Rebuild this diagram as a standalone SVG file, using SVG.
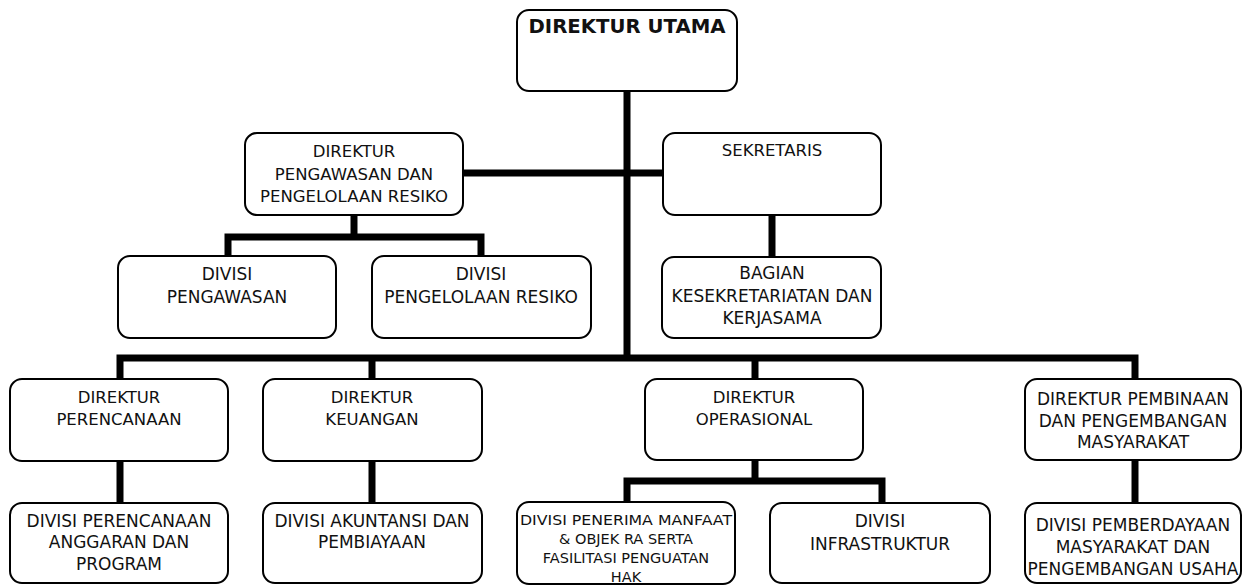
<svg xmlns="http://www.w3.org/2000/svg" width="1244" height="585" viewBox="0 0 1244 585">
<style>
.box{fill:#fff;stroke:#000;stroke-width:2}
.t{font-family:"DejaVu Sans",sans-serif;font-size:16.5px;fill:#111;text-anchor:middle}
.d{font-size:17px}
.s{font-size:14.5px}
.b{font-weight:bold;font-size:19px}
.c{fill:none;stroke:#000;stroke-width:7;stroke-linecap:butt;stroke-linejoin:miter}
</style>
<rect width="1244" height="585" fill="#fff"/>
<g id="connectors">
<path class="c" d="M627 91 V358"/>
<path class="c" d="M120 379 V358 H1135 V379"/>
<path class="c" d="M372 358 V379"/>
<path class="c" d="M755 358 V379"/>
<path class="c" d="M463 173 H663"/>
<path class="c" d="M354 215 V237"/>
<path class="c" d="M228 256 V237 H481 V256"/>
<path class="c" d="M772 215 V257"/>
<path class="c" d="M120 461 V503"/>
<path class="c" d="M372 461 V503"/>
<path class="c" d="M755 460 V481"/>
<path class="c" d="M627 502 V481 H882 V503"/>
<path class="c" d="M1135 460 V503"/>
</g>
<g id="n-utama">
<rect class="box" x="517" y="10" width="220" height="81" rx="12"/>
<text class="t b" x="627" y="33" textLength="197" lengthAdjust="spacingAndGlyphs">DIREKTUR UTAMA</text>
</g>
<g id="n-dir-pengawasan">
<rect class="box" x="245" y="133" width="218" height="82" rx="12"/>
<text class="t" x="354" y="157">DIREKTUR</text>
<text class="t" x="354" y="180">PENGAWASAN DAN</text>
<text class="t" x="354" y="202">PENGELOLAAN RESIKO</text>
</g>
<g id="n-sekretaris">
<rect class="box" x="663" y="133" width="218" height="82" rx="12"/>
<text class="t" x="772" y="156">SEKRETARIS</text>
</g>
<g id="n-div-pengawasan">
<rect class="box" x="118" y="256" width="218" height="82" rx="12"/>
<text class="t d" x="227" y="280">DIVISI</text>
<text class="t d" x="227" y="303">PENGAWASAN</text>
</g>
<g id="n-div-resiko">
<rect class="box" x="372" y="256" width="219" height="82" rx="12"/>
<text class="t d" x="481" y="280">DIVISI</text>
<text class="t d" x="481" y="303">PENGELOLAAN RESIKO</text>
</g>
<g id="n-bagian">
<rect class="box" x="662" y="257" width="219" height="81" rx="12"/>
<text class="t d" x="772" y="279">BAGIAN</text>
<text class="t d" x="772" y="302">KESEKRETARIATAN DAN</text>
<text class="t d" x="772" y="324">KERJASAMA</text>
</g>
<g id="n-dir-perencanaan">
<rect class="box" x="10" y="379" width="218" height="82" rx="12"/>
<text class="t" x="119" y="403">DIREKTUR</text>
<text class="t" x="119" y="425">PERENCANAAN</text>
</g>
<g id="n-div-perencanaan">
<rect class="box" x="10" y="503" width="218" height="80" rx="12"/>
<text class="t d" x="119" y="527">DIVISI PERENCANAAN</text>
<text class="t d" x="119" y="548">ANGGARAN DAN</text>
<text class="t d" x="119" y="570">PROGRAM</text>
</g>
<g id="n-dir-keuangan">
<rect class="box" x="263" y="379" width="219" height="82" rx="12"/>
<text class="t" x="372" y="403">DIREKTUR</text>
<text class="t" x="372" y="425">KEUANGAN</text>
</g>
<g id="n-div-akuntansi">
<rect class="box" x="263" y="503" width="219" height="80" rx="12"/>
<text class="t d" x="372" y="527">DIVISI AKUNTANSI DAN</text>
<text class="t d" x="372" y="548">PEMBIAYAAN</text>
</g>
<g id="n-dir-operasional">
<rect class="box" x="645" y="379" width="218" height="81" rx="12"/>
<text class="t" x="754" y="403">DIREKTUR</text>
<text class="t" x="754" y="425">OPERASIONAL</text>
</g>
<g id="n-div-penerima">
<rect class="box" x="517" y="502" width="218" height="82" rx="12"/>
<text class="t s" x="626" y="525" textLength="212" lengthAdjust="spacingAndGlyphs">DIVISI PENERIMA MANFAAT</text>
<text class="t s" x="626" y="544">&amp; OBJEK RA SERTA</text>
<text class="t s" x="626" y="563">FASILITASI PENGUATAN</text>
<text class="t s" x="626" y="582">HAK</text>
</g>
<g id="n-div-infrastruktur">
<rect class="box" x="770" y="503" width="220" height="80" rx="12"/>
<text class="t d" x="880" y="527">DIVISI</text>
<text class="t d" x="880" y="550">INFRASTRUKTUR</text>
</g>
<g id="n-dir-pembinaan">
<rect class="box" x="1025" y="379" width="216" height="81" rx="12"/>
<text class="t d" x="1133" y="405">DIREKTUR PEMBINAAN</text>
<text class="t d" x="1133" y="427">DAN PENGEMBANGAN</text>
<text class="t d" x="1133" y="448">MASYARAKAT</text>
</g>
<g id="n-div-pemberdayaan">
<rect class="box" x="1025" y="503" width="216" height="80" rx="12"/>
<text class="t d" x="1133" y="531">DIVISI PEMBERDAYAAN</text>
<text class="t d" x="1133" y="553">MASYARAKAT DAN</text>
<text class="t d" x="1133" y="575">PENGEMBANGAN USAHA</text>
</g>
</svg>
